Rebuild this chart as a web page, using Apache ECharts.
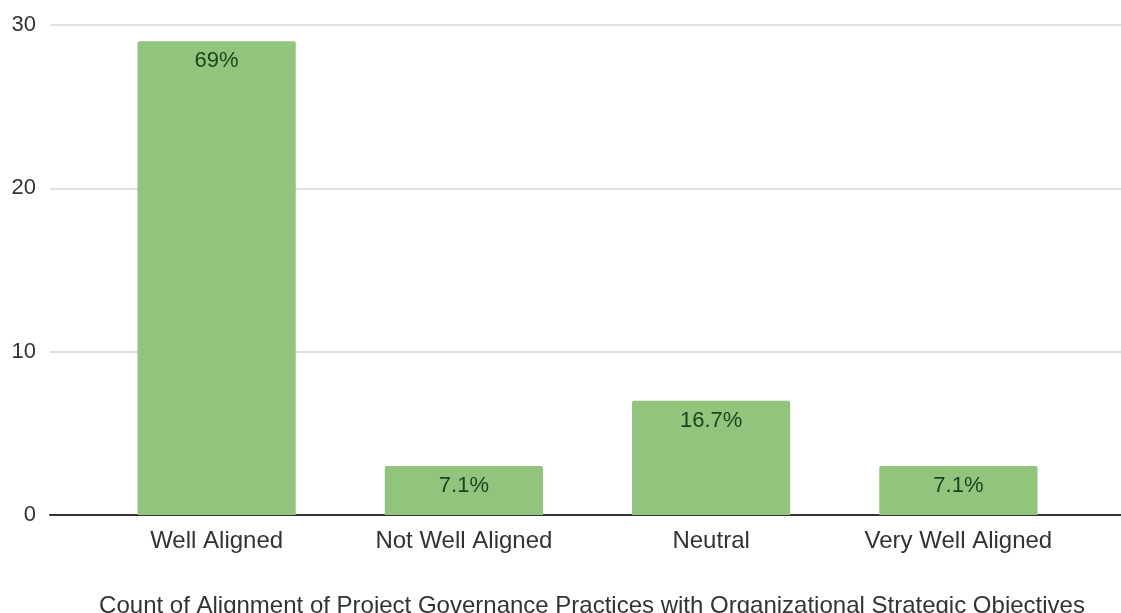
<!DOCTYPE html>
<html>
<head>
<meta charset="utf-8">
<script src="https://cdn.jsdelivr.net/npm/echarts@6/dist/echarts.min.js"></script>
<style>
  html, body { margin: 0; padding: 0; background: #fff; }
  #chart { width: 1121px; height: 613px; }
</style>
</head>
<body>
<div id="chart"></div>
<script>
// Responses per alignment level
const categories = ['Well Aligned', 'Not Well Aligned', 'Neutral', 'Very Well Aligned'];
const counts = [29, 3, 7, 3];
const yTicks = [0, 10, 20, 30];
const axisTitle = 'Count of Alignment of Project Governance Practices with Organizational Strategic Objectives';

const total = counts.reduce((a, b) => a + b, 0);
const pctLabel = v => {
  const p = Math.round(v / total * 1000) / 10;
  return (Number.isInteger(p) ? p.toFixed(0) : p.toFixed(1)) + '%';
};

const font = '"Liberation Sans", Arial, sans-serif';
const yMax = yTicks[yTicks.length - 1];
const yStep = yTicks[1] - yTicks[0];

const chart = echarts.init(document.getElementById('chart'), null, { renderer: 'canvas' });
chart.setOption({
  animation: false,
  backgroundColor: '#ffffff',
  title: {
    text: axisTitle,
    left: 587,
    textAlign: 'center',
    top: 589,
    textStyle: { fontFamily: font, fontSize: 24, fontWeight: 'normal', color: '#333333' }
  },
  grid: [
    // full-width grid carrying gridlines, y labels and the baseline
    { left: 50, right: 0, top: 25, bottom: 98 },
    // grid holding the bars and category labels
    { left: 93, right: 39, top: 25, bottom: 98 }
  ],
  xAxis: [
    {
      gridIndex: 0, type: 'category', data: [''],
      axisLine: { show: true, lineStyle: { color: '#333', width: 2 } },
      axisTick: { show: false }, axisLabel: { show: false }
    },
    {
      gridIndex: 1, type: 'category', data: categories,
      axisLine: { show: false }, axisTick: { show: false },
      axisLabel: { margin: 14, fontFamily: font, fontSize: 24, color: '#333333' }
    }
  ],
  yAxis: [
    {
      gridIndex: 0, type: 'value', min: 0, max: yMax, interval: yStep,
      axisLine: { show: false }, axisTick: { show: false },
      splitLine: { lineStyle: { color: '#d6d6d6', width: 1.5 } },
      axisLabel: { margin: 14, fontFamily: font, fontSize: 22, color: '#333333' }
    },
    {
      gridIndex: 1, type: 'value', min: 0, max: yMax, interval: yStep,
      show: false, splitLine: { show: false }
    }
  ],
  series: [{
    type: 'bar',
    xAxisIndex: 1, yAxisIndex: 1,
    data: counts,
    barWidth: '64%',
    itemStyle: { color: '#93c47d', borderRadius: [2, 2, 0, 0] },
    label: {
      show: true,
      position: 'insideTop',
      distance: 9,
      formatter: p => pctLabel(p.value),
      fontFamily: font, fontSize: 22, color: '#1c451c'
    }
  }]
});
</script>
</body>
</html>
